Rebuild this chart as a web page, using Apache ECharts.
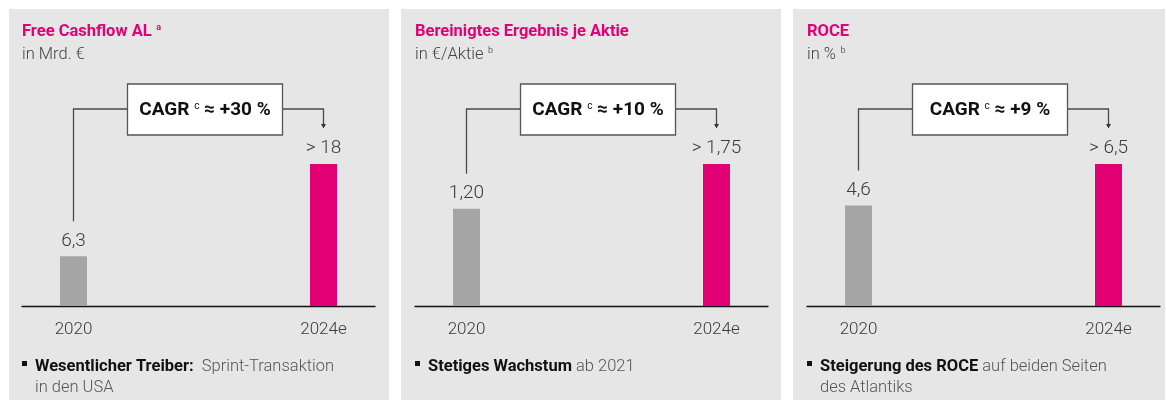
<!DOCTYPE html>
<html>
<head>
<meta charset="utf-8">
<script src="https://cdn.jsdelivr.net/npm/echarts@6/dist/echarts.min.js"></script>
<style>
  html, body { margin: 0; padding: 0; background: #ffffff; }
  #chart { width: 1166px; height: 400px; }
</style>
</head>
<body>
<div id="chart"></div>
<script>
// Years shown on every panel
const years = ['2020', '2024e'];

// Values per panel (2020 actual, 2024e target)
const fcfValues = [6.3, 18];
const epsValues = [1.20, 1.75];
const roceValues = [4.6, 6.5];

// Value labels as printed above the bars
const fcfLabels = ['6,3', '> 18'];
const epsLabels = ['1,20', '> 1,75'];
const roceLabels = ['4,6', '> 6,5'];

// Panel headings
const titles = ['Free Cashflow AL', 'Bereinigtes Ergebnis je Aktie', 'ROCE'];
const titleSups = ['a', '', ''];
const units = ['in Mrd. €', 'in €/Aktie', 'in %'];
const unitSups = ['', 'b', 'b'];

// Growth rates between 2020 and 2024e
const cagrLabels = ['+30 %', '+10 %', '+9 %'];

// Footnote bullets: bold lead, regular continuation
const noteBold = ['Wesentlicher Treiber:', 'Stetiges Wachstum', 'Steigerung des ROCE'];
const noteRest = ['  Sprint-Transaktion\nin den USA', ' ab 2021', ' auf beiden Seiten\ndes Atlantiks'];

const allValues = [fcfValues, epsValues, roceValues];
const allLabels = [fcfLabels, epsLabels, roceLabels];

const MAGENTA = '#e20074';
const BAR_GREY = '#a5a5a5';
const PANEL_BG = '#e6e6e6';
const FONT = 'Roboto, "Noto Sans", sans-serif';

// Layout of the three panels
const panelX = [9, 401, 793];
const panelW = [380, 380, 372];
const gridLeft = [22, 415, 807];
const gridWidth = 353;

const chart = echarts.init(document.getElementById('chart'), null, { renderer: 'canvas' });

const grids = [], xAxes = [], yAxes = [], series = [];
for (let i = 0; i < 3; i++) {
  grids.push({ left: gridLeft[i], width: gridWidth, top: 164, bottom: 94, containLabel: false });
  xAxes.push({
    type: 'value', gridIndex: i, min: -0.206, max: 1.206,
    axisLine: { show: true, lineStyle: { color: '#111', width: 1.3 } },
    axisTick: { show: false },
    splitLine: { show: false },
    axisLabel: {
      customValues: [0, 1],
      formatter: (v) => years[Math.round(v)],
      margin: 15, fontFamily: FONT, fontSize: 17, color: '#3a3a3a', fontWeight: 300
    }
  });
  yAxes.push({
    type: 'value', gridIndex: i, min: 0, max: allValues[i][1], show: false,
    splitLine: { show: false }
  });
  series.push({
    type: 'bar', xAxisIndex: i, yAxisIndex: i, barWidth: 27,
    silent: true, animation: false,
    label: {
      show: true, position: 'top', distance: 6,
      fontFamily: FONT, fontSize: 19, fontWeight: 300, color: '#3c3c3c'
    },
    data: allValues[i].map((v, j) => ({
      value: [j, v],
      itemStyle: { color: j === 0 ? BAR_GREY : MAGENTA },
      label: { formatter: allLabels[i][j] }
    }))
  });
}

chart.setOption({
  animation: false,
  grid: grids, xAxis: xAxes, yAxis: yAxes, series: series
});

// Panels, headings, CAGR connectors and footnotes
const graphics = [];
for (let i = 0; i < 3; i++) {
  const px = panelX[i];
  const tx = gridLeft[i];
  graphics.push({
    type: 'rect', z: -10, silent: true,
    shape: { x: px, y: 9, width: panelW[i], height: 400 },
    style: { fill: PANEL_BG }
  });
  graphics.push({
    type: 'text', x: tx, y: 32, silent: true,
    style: {
      text: '{t|' + titles[i] + '}' + (titleSups[i] ? '{s|  ' + titleSups[i] + '}' : ''),
      verticalAlign: 'middle',
      rich: {
        t: { fontFamily: FONT, fontSize: 16.5, fontWeight: 'bold', fill: MAGENTA },
        s: { fontFamily: FONT, fontSize: 9, fontWeight: 'bold', fill: MAGENTA, verticalAlign: 'top' }
      }
    }
  });
  graphics.push({
    type: 'text', x: tx, y: 55, silent: true,
    style: {
      text: '{u|' + units[i] + '}' + (unitSups[i] ? '{s|  ' + unitSups[i] + '}' : ''),
      verticalAlign: 'middle',
      rich: {
        u: { fontFamily: FONT, fontSize: 16.5, fontWeight: 300, fill: '#444' },
        s: { fontFamily: FONT, fontSize: 9, fill: '#666', verticalAlign: 'top' }
      }
    }
  });

  const vals = allValues[i];
  const a = chart.convertToPixel({ gridIndex: i }, [0, vals[0]]);
  const b = chart.convertToPixel({ gridIndex: i }, [1, vals[1]]);
  const lineY = 109;
  const boxW = 155, boxTop = 84, boxH = 51;
  const boxCx = (a[0] + b[0]) / 2 + 6.5;
  const lineStyle = { stroke: '#4a4a4a', lineWidth: 1.3, fill: null };

  graphics.push({
    type: 'polyline', silent: true,
    shape: { points: [[a[0], a[1] - 35], [a[0], lineY], [boxCx - boxW / 2, lineY]] },
    style: lineStyle
  });
  graphics.push({
    type: 'polyline', silent: true,
    shape: { points: [[boxCx + boxW / 2, lineY], [b[0], lineY], [b[0], 125]] },
    style: lineStyle
  });
  graphics.push({
    type: 'polygon', silent: true,
    shape: { points: [[b[0] - 2.5, 124], [b[0] + 2.5, 124], [b[0], 128.5]] },
    style: { fill: '#333' }
  });
  graphics.push({
    type: 'rect', silent: true,
    shape: { x: boxCx - boxW / 2, y: boxTop, width: boxW, height: boxH },
    style: { fill: '#ffffff', stroke: '#555', lineWidth: 1.3 }
  });
  graphics.push({
    type: 'text', x: boxCx, y: boxTop + boxH / 2 + 1, silent: true,
    style: {
      text: '{c|CAGR }{s|c}{c| ≈ ' + cagrLabels[i] + '}',
      align: 'center', verticalAlign: 'middle',
      rich: {
        c: { fontFamily: FONT, fontSize: 19, fontWeight: 'bold', fill: '#111' },
        s: { fontFamily: FONT, fontSize: 10, fill: '#111', verticalAlign: 'top' }
      }
    }
  });

  // Footnote bullet
  graphics.push({
    type: 'rect', silent: true,
    shape: { x: tx, y: 361, width: 5, height: 5 },
    style: { fill: '#111' }
  });
  const restLines = noteRest[i].split('\n');
  let noteText = '{b|' + noteBold[i] + '}{r|' + restLines[0] + '}';
  for (let k = 1; k < restLines.length; k++) noteText += '\n{r|' + restLines[k] + '}';
  graphics.push({
    type: 'text', x: tx + 13, y: 356, silent: true,
    style: {
      text: noteText,
      verticalAlign: 'top',
      lineHeight: 21,
      rich: {
        b: { fontFamily: FONT, fontSize: 16.5, fontWeight: 'bold', fill: '#111', lineHeight: 21 },
        r: { fontFamily: FONT, fontSize: 16.5, fontWeight: 300, fill: '#555', lineHeight: 21 }
      }
    }
  });
}

chart.setOption({ graphic: { elements: graphics } });
</script>
</body>
</html>
